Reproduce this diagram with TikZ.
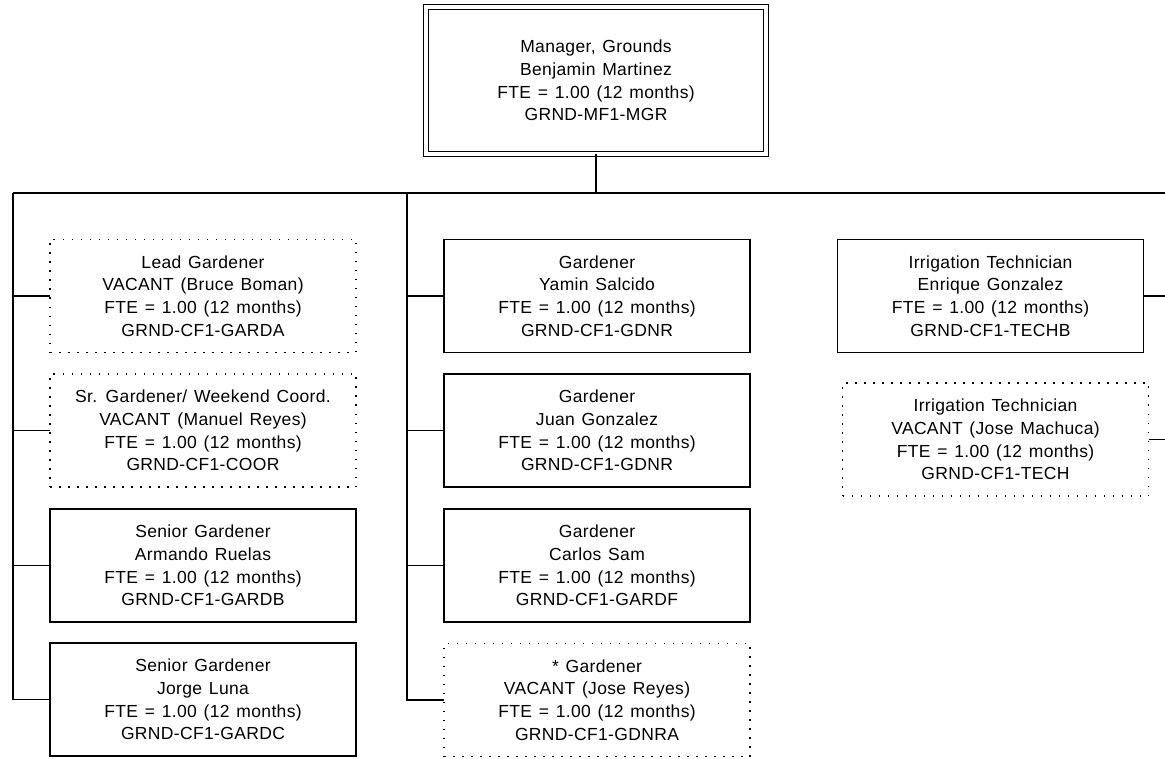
\documentclass[tikz,border=0pt]{standalone}
\usepackage{fontspec}
\setmainfont{Liberation Sans}[LetterSpace=2,WordSpace=1.3]
\begin{document}
\begin{tikzpicture}[x=1pt,y=-1pt,
  every node/.style={font=\fontsize{17.5}{22.7}\selectfont, align=center, inner sep=0pt, outer sep=0pt},
  post/.style={draw, line width=1.6pt, minimum width=306pt, minimum height=113pt},
  vacant/.style={draw, line width=1.5pt, dash pattern=on 1.5pt off 7.5pt, minimum width=306pt, minimum height=113pt},
  head/.style={draw, double, line width=1.5pt, double distance=3.5pt, minimum width=340pt, minimum height=146.6pt},
  link/.style={line width=1.6pt}]
\useasboundingbox (0,0) rectangle (1165,759);

\node[head] (mgr) at (596,80.5) {Manager, Grounds\\Benjamin Martinez\\FTE = 1.00 (12 months)\\GRND-MF1-MGR};

% left column
\node[vacant] (lead) at (203,296) {Lead Gardener\\VACANT (Bruce Boman)\\FTE = 1.00 (12 months)\\GRND-CF1-GARDA};
\node[vacant] (coor) at (203,430.5) {Sr. Gardener/ Weekend Coord.\\VACANT (Manuel Reyes)\\FTE = 1.00 (12 months)\\GRND-CF1-COOR};
\node[post] (sgb) at (203,565.5) {Senior Gardener\\Armando Ruelas\\FTE = 1.00 (12 months)\\GRND-CF1-GARDB};
\node[post] (sgc) at (203,699.5) {Senior Gardener\\Jorge Luna\\FTE = 1.00 (12 months)\\GRND-CF1-GARDC};

% middle column
\node[post] (g1) at (597,296) {Gardener\\Yamin Salcido\\FTE = 1.00 (12 months)\\GRND-CF1-GDNR};
\node[post] (g2) at (597,430.5) {Gardener\\Juan Gonzalez\\FTE = 1.00 (12 months)\\GRND-CF1-GDNR};
\node[post] (g3) at (597,565.5) {Gardener\\Carlos Sam\\FTE = 1.00 (12 months)\\GRND-CF1-GARDF};
\node[vacant] (g4) at (597,700) {* Gardener\\VACANT (Jose Reyes)\\FTE = 1.00 (12 months)\\GRND-CF1-GDNRA};

% right column
\node[post] (it1) at (990.5,296) {Irrigation Technician\\Enrique Gonzalez\\FTE = 1.00 (12 months)\\GRND-CF1-TECHB};
\node[vacant] (it2) at (995.5,439.5) {Irrigation Technician\\VACANT (Jose Machuca)\\FTE = 1.00 (12 months)\\GRND-CF1-TECH};

% bus
\coordinate (busL) at (13,193);
\coordinate (busM) at (407,193);
\coordinate (busR) at (1165,193);

\draw[link] (mgr.south) -- (mgr.south |- busL);
\draw[link] (busL) -- (busR);
\foreach \n in {lead,coor,sgb,sgc} \draw[link] (busL) |- (\n.west);
\foreach \n in {g1,g2,g3,g4} \draw[link] (busM) |- (\n.west);
\foreach \n in {it1,it2} \draw[link] (\n.east) -- (\n.east -| busR);
\end{tikzpicture}
\end{document}
